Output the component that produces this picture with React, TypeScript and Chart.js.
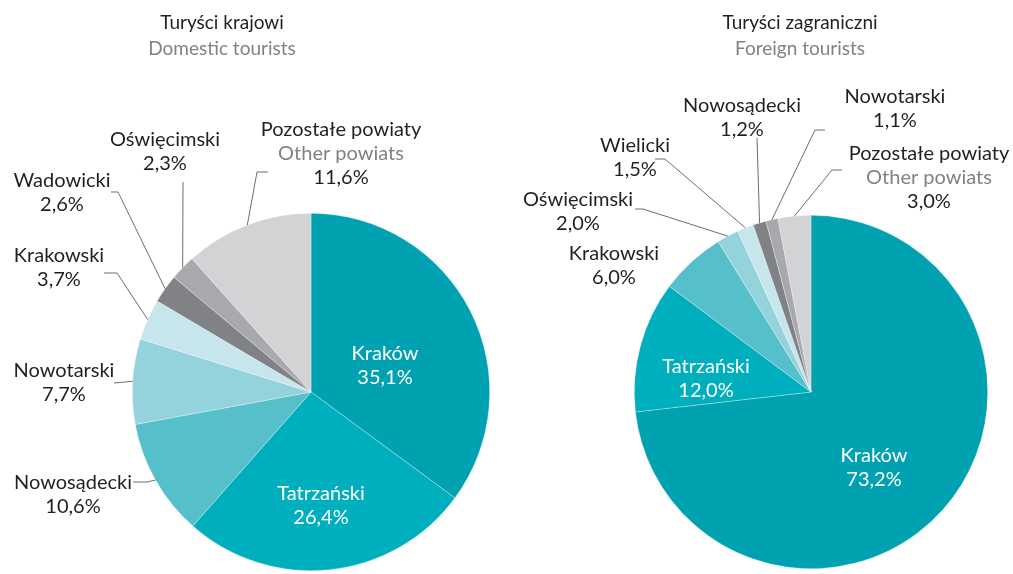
import React, { useEffect, useRef } from "react";
import { Chart, registerables } from "chart.js";

Chart.register(...registerables);

// ---------- DATA ----------
const domesticLabels = ["Kraków", "Tatrzański", "Nowosądecki", "Nowotarski", "Krakowski", "Wadowicki", "Oświęcimski", "Pozostałe powiaty"];
const domesticValues = [35.1, 26.4, 10.6, 7.7, 3.7, 2.6, 2.3, 11.6];

const foreignLabels = ["Kraków", "Tatrzański", "Krakowski", "Oświęcimski", "Wielicki", "Nowosądecki", "Nowotarski", "Pozostałe powiaty"];
const foreignValues = [73.2, 12.0, 6.0, 2.0, 1.5, 1.2, 1.1, 3.0];

const domesticTitle = ["Turyści krajowi", "Domestic tourists"];
const foreignTitle = ["Turyści zagraniczni", "Foreign tourists"];
const otherEnglish = "Other powiats";

// ---------- STYLE / LAYOUT ----------
const sliceColors = ["#00a1b1", "#00afbe", "#55bfca", "#94d3dc", "#c7e6ec", "#808285", "#a7a9ac", "#d1d3d4"];
const FONT = "Lato, 'Open Sans', sans-serif";
const DARK = "#231f20";
const GRAY = "#808285";
const LEADER = "#6d6e71";

type LabelLayout = { x: number; y: number; inside?: boolean; stub?: [number, number, number, number] };

const domesticLayout: LabelLayout[] = [
  { x: 385, y: 360, inside: true },
  { x: 321, y: 500, inside: true },
  { x: 73, y: 489, stub: [133, 482, 147, 482] },
  { x: 64, y: 377, stub: [114, 383, 114, 383] },
  { x: 59, y: 262, stub: [104, 273, 117, 273] },
  { x: 62, y: 187, stub: [111, 192, 118, 192] },
  { x: 165, y: 146, stub: [183, 182, 183, 182] },
  { x: 341, y: 136, stub: [268, 172, 257, 172] },
];

const foreignLayout: LabelLayout[] = [
  { x: 874, y: 462, inside: true },
  { x: 706, y: 373, inside: true },
  { x: 614, y: 260 },
  { x: 578, y: 206, stub: [635, 209, 643, 209] },
  { x: 635, y: 152, stub: [655, 159, 665, 159] },
  { x: 742, y: 112, stub: [757, 138, 757, 138] },
  { x: 895, y: 103, stub: [825, 130, 815, 130] },
  { x: 929, y: 160, stub: [842, 170, 832, 170] },
];

const fmt = (v: number) => v.toFixed(1).replace(".", ",") + "%";

function makeLabelPlugin(labels: string[], layout: LabelLayout[], title: string[], titleX: number) {
  return {
    id: "pieLabels",
    afterDatasetsDraw(chart: any) {
      const ctx: CanvasRenderingContext2D = chart.ctx;
      const meta = chart.getDatasetMeta(0);
      const values = chart.data.datasets[0].data as number[];
      ctx.save();
      ctx.textAlign = "center";
      ctx.textBaseline = "alphabetic";
      // titles
      ctx.font = `19px ${FONT}`;
      ctx.fillStyle = DARK;
      ctx.fillText(title[0], titleX, 29);
      ctx.fillStyle = GRAY;
      ctx.fillText(title[1], titleX, 55);

      meta.data.forEach((arc: any, i: number) => {
        const lay = layout[i];
        const p = arc.getProps(["x", "y", "startAngle", "endAngle", "outerRadius"], true);
        const mid = (p.startAngle + p.endAngle) / 2;
        const ex = p.x + Math.cos(mid) * p.outerRadius;
        const ey = p.y + Math.sin(mid) * p.outerRadius;
        if (lay.stub) {
          ctx.strokeStyle = LEADER;
          ctx.lineWidth = 1;
          ctx.beginPath();
          ctx.moveTo(lay.stub[0], lay.stub[1]);
          ctx.lineTo(lay.stub[2], lay.stub[3]);
          ctx.lineTo(ex, ey);
          ctx.stroke();
        }
        ctx.font = `20px ${FONT}`;
        const lines: { t: string; c: string }[] = [];
        const main = lay.inside ? "#ffffff" : DARK;
        lines.push({ t: labels[i], c: main });
        if (labels[i] === "Pozostałe powiaty") lines.push({ t: otherEnglish, c: GRAY });
        lines.push({ t: fmt(values[i]), c: main });
        lines.forEach((ln, k) => {
          ctx.fillStyle = ln.c;
          ctx.fillText(ln.t, lay.x, lay.y + k * 24);
        });
      });
      ctx.restore();
    },
  };
}

function PieCanvas(props: { labels: string[]; values: number[]; layout: LabelLayout[]; title: string[]; titleX: number; padding: any }) {
  const ref = useRef<HTMLCanvasElement | null>(null);
  useEffect(() => {
    if (!ref.current) return;
    const chart = new Chart(ref.current, {
      type: "pie",
      data: {
        labels: props.labels,
        datasets: [
          {
            data: props.values,
            backgroundColor: sliceColors,
            borderColor: "rgba(255,255,255,0.5)",
            borderWidth: 0.6,
          },
        ],
      },
      options: {
        responsive: false,
        animation: false,
        devicePixelRatio: 1,
        layout: { padding: props.padding },
        plugins: { legend: { display: false }, tooltip: { enabled: false }, title: { display: false } },
        events: [],
      },
      plugins: [makeLabelPlugin(props.labels, props.layout, props.title, props.titleX)],
    } as any);
    return () => chart.destroy();
  }, []);
  return (
    <canvas
      ref={ref}
      width={1013}
      height={574}
      style={{ position: "absolute", left: 0, top: 0, width: 1013, height: 574 }}
    />
  );
}

export default function App() {
  useEffect(() => {
    document.body.style.margin = "0";
    document.body.style.background = "#ffffff";
  }, []);
  return (
    <div style={{ position: "relative", width: 1013, height: 574, overflow: "hidden", background: "#fff" }}>
      <PieCanvas
        labels={domesticLabels}
        values={domesticValues}
        layout={domesticLayout}
        title={domesticTitle}
        titleX={222}
        padding={{ left: 132, right: 523, top: 212, bottom: 2 }}
      />
      <PieCanvas
        labels={foreignLabels}
        values={foreignValues}
        layout={foreignLayout}
        title={foreignTitle}
        titleX={800}
        padding={{ left: 634, right: 25, top: 215, bottom: 5 }}
      />
    </div>
  );
}
